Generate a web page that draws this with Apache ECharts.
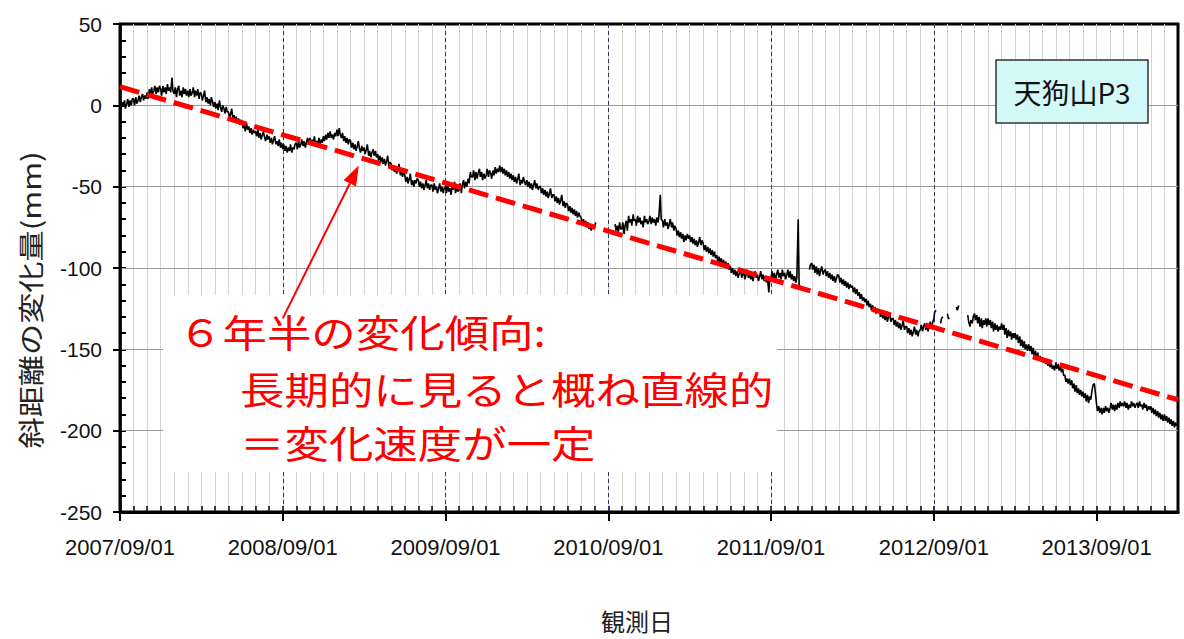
<!DOCTYPE html>
<html>
<head>
<meta charset="utf-8">
<script src="https://cdn.jsdelivr.net/npm/echarts@6/dist/echarts.min.js"></script>
<style>
  html, body { margin: 0; padding: 0; background: #ffffff; }
  #chart { width: 1184px; height: 639px; }
</style>
</head>
<body>
<div id="chart"></div>
<script>
// Slope distance change at 天狗山P3 (mm), twelve readings per month on the days below.
// Each row is one month, counted from 2007/09; null marks missing observations.
const sampleDays = [1, 3, 6, 8, 11, 13, 16, 18, 21, 23, 26, 28];

// 2007/09 - 2008/08
const obs2007 = [
  1, -3, 2, -1, 3, -2, 1, 4, -1, 3, 0, 4,
  4, 0, 5, 1, 3, 6, 2, 5, 7, 3, 6, 4,
  8, 4, 10, 6, 11, 7, 9, 12, 7, 11, 8, 12,
  10, 6, 12, 8, 11, 7, 13, 9, 11, 8, 17, 9,
  7, 11, 5, 10, 12, 6, 9, 5, 11, 7, 10, 6,
  9, 5, 10, 6, 8, 11, 5, 9, 6, 10, 4, 8,
  7, 3, 6, 9, 2, 5, 1, 4, 0, 5, 2, -1,
  2, -2, 1, -3, 3, -1, -4, 0, -2, -5, -1, -4,
  -4, -8, -5, -2, -9, -6, -10, -7, -11, -8, -12, -9,
  -10, -14, -12, -16, -11, -15, -13, -17, -14, -18, -15, -17,
  -16, -19, -15, -20, -17, -21, -18, -16, -20, -22, -18, -21,
  -19, -23, -20, -24, -21, -19, -24, -22, -25, -21, -26, -23
];
// 2008/09 - 2009/08
const obs2008 = [
  -27, -24, -28, -25, -29, -26, -28, -24, -29, -26, -27, -24,
  -23, -27, -22, -26, -24, -21, -25, -22, -26, -23, -20, -24,
  -20, -24, -21, -25, -19, -23, -22, -25, -20, -24, -21, -23,
  -19, -22, -18, -21, -17, -20, -16, -20, -18, -21, -17, -19,
  -15, -19, -14, -18, -20, -17, -22, -19, -23, -20, -24, -21,
  -22, -26, -23, -27, -24, -28, -25, -22, -27, -29, -25, -28,
  -26, -30, -27, -24, -31, -28, -32, -29, -27, -31, -28, -32,
  -30, -34, -31, -35, -32, -36, -33, -37, -34, -31, -38, -35,
  -36, -40, -37, -41, -38, -42, -39, -36, -43, -40, -44, -41,
  -43, -47, -44, -48, -45, -42, -49, -46, -50, -46, -48, -45,
  -46, -50, -47, -51, -48, -52, -49, -46, -51, -48, -52, -49,
  -49, -53, -48, -52, -50, -54, -51, -48, -53, -50, -54, -51
];
// 2009/09 - 2010/08
const obs2009 = [
  -50, -54, -48, -53, -51, -55, -49, -52, -47, -54, -50, -53,
  -52, -48, -54, -49, -46, -51, -47, -50, -45, -48, -41, -44,
  -44, -40, -46, -41, -45, -42, -39, -44, -41, -46, -42, -45,
  -43, -39, -44, -40, -42, -45, -40, -43, -38, -42, -39, -41,
  -37, -41, -38, -42, -39, -43, -40, -44, -41, -45, -42, -46,
  -43, -47, -44, -48, -45, -42, -49, -46, -48, -44, -47, -49,
  -46, -50, -47, -51, -48, -52, -49, -46, -51, -48, -52, -50,
  -50, -54, -51, -55, -52, -56, -53, -57, -54, -51, -57, -55,
  -55, -59, -56, -60, -57, -61, -58, -55, -62, -59, -63, -60,
  -61, -65, -62, -66, -63, -67, -64, -68, -65, -69, -66, -68,
  -69, -73, -70, -74, -71, -75, -72, -76, -73, -77, -74, -76,
  -75, -72, null, null, null, null, null, null, null, null, null, null
];
// 2010/09 - 2011/08
const obs2010 = [
  null, null, null, null, null, null, -73, -77, -74, -78, -72, -76,
  -76, -72, -79, -74, -71, -77, -68, -72, -70, -74, -67, -71,
  -70, -74, -68, -72, -69, -73, -71, -75, -68, -72, -70, -73,
  -71, -68, -73, -69, -72, -70, -74, -69, -72, -68, -55, -70,
  -71, -75, -70, -74, -72, -76, -73, -70, -75, -72, -77, -74,
  -76, -80, -77, -81, -78, -82, -79, -84, -80, -83, -79, -82,
  -80, -84, -81, -85, -82, -86, -83, -87, -84, -81, -86, -83,
  -85, -89, -86, -90, -87, -91, -88, -92, -89, -93, -90, -94,
  -92, -96, -93, -97, -94, -98, -95, -99, -96, -100, -97, -101,
  -99, -103, -100, -104, -101, -105, -102, -106, -103, -100, -106, -104,
  -103, -107, -104, -101, -106, -103, -107, -104, -108, -105, -102, -106,
  -104, -108, -105, -102, -107, -104, -108, -105, -109, -106, -115, -107
];
// 2011/09 - 2012/08
const obs2011 = [
  -106, -102, -107, -103, -108, -104, -101, -106, -103, -107, -101, -105,
  -103, -107, -104, -101, -106, -102, -107, -104, -108, -105, -109, -106,
  -70, -110, -113, null, null, null, null, null, null, null, -101, -98,
  -97, -101, -98, -103, -99, -104, -100, -105, -101, -99, -104, -102,
  -101, -105, -102, -106, -103, -107, -104, -108, -105, -109, -106, -104,
  -105, -109, -106, -110, -107, -111, -108, -112, -109, -113, -110, -112,
  -111, -115, -112, -116, -113, -117, -115, -119, -116, -120, -118, -121,
  -119, -123, -120, -124, -122, -126, -123, -127, -124, -128, -125, -127,
  -126, -130, -127, -131, -128, -132, -129, -133, -130, -128, -133, -131,
  -131, -135, -132, -136, -133, -137, -134, -138, -135, -132, -138, -136,
  -136, -140, -137, -141, -138, -142, -139, -136, -141, -138, -142, -139,
  -138, -135, -139, -136, -134, -138, -135, -139, -136, -133, -137, -134
];
// 2012/09 - 2013/08
const obs2012 = [
  -131, -127, -126, null, null, null, -134, -131, -130, null, null, null,
  -128, -131, -131, null, null, null, null, null, -124, -126, -123, null,
  null, null, null, null, null, null, -129, -133, -136, -132, -134, -130,
  -128, -132, -129, -134, -130, -136, -131, -137, -132, -135, -131, -136,
  -131, -135, -132, -137, -133, -139, -134, -138, -135, -139, -136, -138,
  -134, -138, -135, -141, -137, -143, -138, -142, -139, -144, -140, -143,
  -140, -144, -141, -146, -142, -148, -144, -149, -145, -150, -147, -151,
  -147, -151, -148, -153, -149, -155, -151, -156, -152, -157, -154, -156,
  -155, -158, -156, -159, -157, -160, -158, -161, -159, -162, -160, -163,
  -158, -162, -159, -163, -160, -164, -162, -166, -166, -170, -168, -171,
  -168, -172, -169, -174, -171, -176, -172, -177, -174, -178, -175, -179,
  -176, -180, -177, -182, -178, -183, -179, -181, -175, -172, -171, -176
];
// 2013/09 - 2014/02
const obs2013 = [
  -184, -188, -185, -189, -186, -190, -186, -189, -185, -188, -186, -189,
  -186, -183, -187, -184, -188, -184, -187, -183, -186, -182, -185, -183,
  -185, -182, -186, -183, -187, -184, -186, -182, -185, -183, -186, -184,
  -183, -186, -182, -185, -184, -187, -183, -186, -184, -188, -185, -187,
  -185, -189, -186, -190, -187, -191, -188, -192, -189, -193, -190, -194,
  -190, -194, -191, -195, -192, -196, -193, -197, -194, -198, -195, -197
];

// Straight-line trend over the 6.5 years (months from 2007/09, mm)
const trendMonths = [0, 78];
const trendValues = [11.5, -181];

// Year ticks on the date axis
const yearTickMonths = [0, 12, 24, 36, 48, 60, 72];
const yearTickLabels = ['2007/09/01', '2008/09/01', '2009/09/01', '2010/09/01',
                        '2011/09/01', '2012/09/01', '2013/09/01'];

// Arrow from the note to the trend line (months, mm)
const arrowTail = [12.0, -131];
const arrowTip = [17.6, -37];

const stationName = '天狗山P3';
const noteLines = ['６年半の変化傾向:', '長期的に見ると概ね直線的', '＝変化速度が一定'];

// ---- build series data ----
const allObs = [].concat(obs2007, obs2008, obs2009, obs2010, obs2011, obs2012, obs2013);
const observed = allObs.map(function (v, i) {
  const month = Math.floor(i / sampleDays.length);
  const day = sampleDays[i % sampleDays.length];
  return [month + (day - 1) / 30, v];
});
const trend = trendMonths.map(function (m, i) { return [m, trendValues[i]]; });

const labelFont = '"Liberation Sans", Arial, sans-serif';
const cjkFont = '"Noto Sans CJK JP", sans-serif';

const chart = echarts.init(document.getElementById('chart'), null, { renderer: 'svg' });

chart.setOption({
  animation: false,
  backgroundColor: '#ffffff',
  grid: {
    left: 120, right: 6, top: 24, bottom: 127,
    show: true, borderColor: '#000000', borderWidth: 3, backgroundColor: 'transparent'
  },
  xAxis: [
    { // monthly grid and inward ticks
      type: 'value', min: 0, max: 78, interval: 1, position: 'bottom', z: 0,
      axisLine: { show: false, onZero: false },
      axisTick: { show: true, inside: true, length: 6, lineStyle: { color: '#000', width: 1.5 } },
      axisLabel: { show: false },
      splitLine: { show: true, showMinLine: false, showMaxLine: false,
                   lineStyle: { color: '#d4d4d4', width: 1 } }
    },
    { // yearly labels and dashed year lines
      type: 'value', min: 0, max: 78, interval: 12, position: 'bottom', z: 1,
      axisLine: { show: true, onZero: false, lineStyle: { color: '#000', width: 3 } },
      axisTick: { show: true, inside: false, length: 9, customValues: yearTickMonths,
                  lineStyle: { color: '#000', width: 2 } },
      axisLabel: {
        show: true, margin: 24, customValues: yearTickMonths,
        color: '#111', fontSize: 22, fontFamily: labelFont,
        formatter: function (v) {
          const i = yearTickMonths.indexOf(Math.round(v));
          return i >= 0 ? yearTickLabels[i] : '';
        }
      },
      splitLine: { show: true, showMinLine: false, showMaxLine: false,
                   lineStyle: { color: '#34346a', width: 1, type: [4, 3] } }
    }
  ],
  yAxis: [
    { // 10 mm inward ticks
      type: 'value', min: -250, max: 50, interval: 10, position: 'left', z: 0,
      axisLine: { show: false, onZero: false },
      axisTick: { show: true, inside: true, length: 6, lineStyle: { color: '#000', width: 2 } },
      axisLabel: { show: false },
      splitLine: { show: false }
    },
    { // 50 mm labels and grid lines
      type: 'value', min: -250, max: 50, interval: 50, position: 'left', z: 1,
      axisLine: { show: true, onZero: false, lineStyle: { color: '#000', width: 2.5 } },
      axisTick: { show: true, inside: false, length: 7, lineStyle: { color: '#000', width: 2 } },
      axisLabel: { show: true, margin: 18, color: '#111', fontSize: 21, fontFamily: labelFont },
      splitLine: { show: true, showMinLine: false, showMaxLine: false,
                   lineStyle: { color: '#9a9a9a', width: 1.2 } }
    }
  ],
  series: [
    {
      name: '斜距離の変化量',
      type: 'line', xAxisIndex: 1, yAxisIndex: 1, z: 3,
      data: observed, showSymbol: false, connectNulls: false, silent: true,
      lineStyle: { color: '#000000', width: 1.6 }
    },
    {
      name: '傾向',
      type: 'line', xAxisIndex: 1, yAxisIndex: 1, z: 4,
      data: trend, showSymbol: false, silent: true,
      lineStyle: { color: '#ff0000', width: 5, type: [20, 8], cap: 'butt' }
    }
  ]
});

// ---- annotations ----
const p1 = chart.convertToPixel({ seriesIndex: 0 }, arrowTail);
const p2 = chart.convertToPixel({ seriesIndex: 0 }, arrowTip);
const dx = p2[0] - p1[0], dy = p2[1] - p1[1];
const len = Math.sqrt(dx * dx + dy * dy);
const ux = dx / len, uy = dy / len;
const headLen = 20, headHalf = 7;
const bx = p2[0] - ux * headLen, by = p2[1] - uy * headLen;

const noteFont = '38px ' + cjkFont;

chart.setOption({
  graphic: {
    elements: [
      { id: 'noteBg', type: 'rect', z: 2, silent: true,
        shape: { x: 163, y: 295, width: 614, height: 177 },
        style: { fill: '#ffffff' } },
      { id: 'note1', type: 'text', z: 6, x: 178, y: 330, scaleX: 1.17, silent: true,
        style: { text: noteLines[0], fill: '#ff0000', font: noteFont, verticalAlign: 'middle' } },
      { id: 'note2', type: 'text', z: 6, x: 240, y: 387, scaleX: 1.17, silent: true,
        style: { text: noteLines[1], fill: '#ff0000', font: noteFont, verticalAlign: 'middle' } },
      { id: 'note3', type: 'text', z: 6, x: 240, y: 441, scaleX: 1.17, silent: true,
        style: { text: noteLines[2], fill: '#ff0000', font: noteFont, verticalAlign: 'middle' } },
      { id: 'arrowShaft', type: 'line', z: 6, silent: true,
        shape: { x1: p1[0], y1: p1[1], x2: bx, y2: by },
        style: { stroke: '#ff0000', lineWidth: 2 } },
      { id: 'arrowHead', type: 'polygon', z: 6, silent: true,
        shape: { points: [[p2[0], p2[1]],
                          [bx + uy * headHalf, by - ux * headHalf],
                          [bx - uy * headHalf, by + ux * headHalf]] },
        style: { fill: '#ff0000' } },
      { id: 'stationBox', type: 'rect', z: 6, silent: true,
        shape: { x: 996, y: 60, width: 152, height: 63 },
        style: { fill: '#d2f8f8', stroke: '#333333', lineWidth: 1.5 } },
      { id: 'stationText', type: 'text', z: 7, x: 1072, y: 92, silent: true,
        style: { text: stationName, fill: '#111111', font: '28px ' + cjkFont,
                 align: 'center', verticalAlign: 'middle' } },
      { id: 'yTitle', type: 'text', z: 7, x: 30, y: 300, rotation: Math.PI / 2, scaleX: 1.2, silent: true,
        style: { text: '斜距離の変化量(mm)', fill: '#222222', font: '26px ' + cjkFont,
                 align: 'center', verticalAlign: 'middle' } },
      { id: 'xTitle', type: 'text', z: 7, x: 637, y: 620, silent: true,
        style: { text: '観測日', fill: '#222222', font: '24px ' + cjkFont,
                 align: 'center', verticalAlign: 'middle' } }
    ]
  }
});
</script>
</body>
</html>
